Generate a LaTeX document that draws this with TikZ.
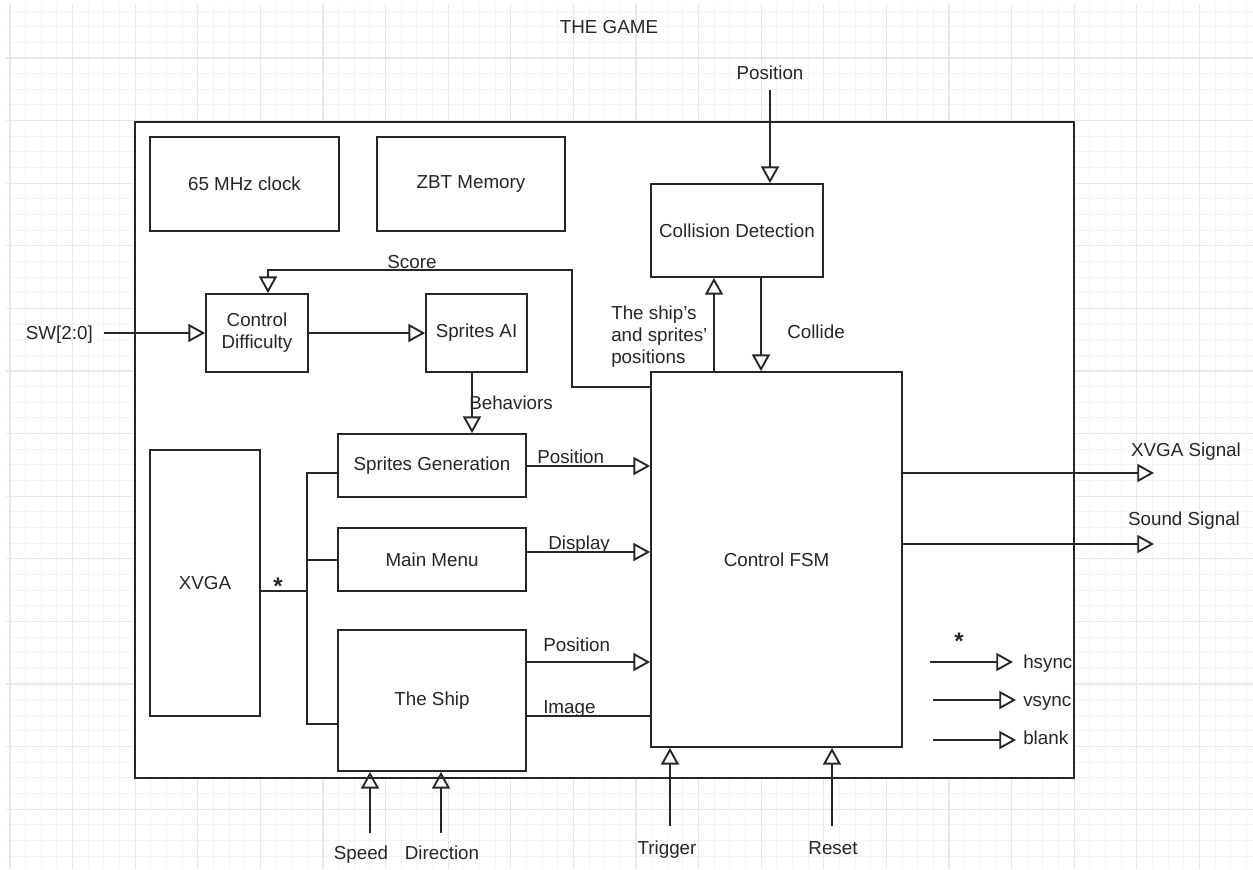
\documentclass[tikz,border=0pt]{standalone}
\usepackage{fontspec}
\setmainfont{Liberation Sans}
\usetikzlibrary{arrows.meta}
\definecolor{ink}{HTML}{262626}
\definecolor{gmin}{HTML}{F4F4F4}
\definecolor{gmaj}{HTML}{E8E8E8}
\begin{document}
\begin{tikzpicture}[x=0.75pt,y=-0.75pt,
  every node/.style={text=ink,font=\fontsize{14.1pt}{16.5pt}\selectfont},
  box/.style={draw=ink,line width=1.4pt,fill=white,inner sep=0pt,align=center},
  lbl/.style={inner sep=0pt,text height=10.1pt,text depth=0pt},
  wire/.style={draw=ink,line width=1.4pt},
  arr/.style={wire,-{Triangle[open,length=12.5pt,width=13.5pt]}},
  star/.style={inner sep=0pt,font=\fontsize{18pt}{18pt}\selectfont\bfseries,anchor=base},
  gminor/.style={draw=gmin,line width=0.75pt},
  gmajor/.style={draw=gmaj,line width=0.8pt}]
\useasboundingbox (0,0) rectangle (1253,869);
% grid
\begin{scope}
\clip (6,4) rectangle (1253,869);
\foreach \i in {0,...,79} \draw[gminor] ({10+15.65*\i},4) -- ({10+15.65*\i},869);
\foreach \j in {-3,...,51} \draw[gminor] (6,{58+15.65*\j}) -- (1253,{58+15.65*\j});
\foreach \i in {0,...,19} \draw[gmajor] ({10+62.6*\i},4) -- ({10+62.6*\i},869);
\foreach \j in {-1,...,13} \draw[gmajor] (6,{58+62.6*\j}) -- (1253,{58+62.6*\j});
\end{scope}
% outer box
\node[box,minimum width=704.25pt,minimum height=492pt] (outer) at (604.5,450) {};
% blocks
\node[box,minimum width=141.75pt,minimum height=70.5pt] (clock) at (244.5,184) {65 MHz clock};
\node[box,minimum width=141pt,minimum height=70.5pt] (zbt) at (471,184) {ZBT Memory};
\node[box,minimum width=129pt,minimum height=69.75pt] (coll) at (737,230.5) {Collision Detection};
\node[box,minimum width=76.5pt,minimum height=58.5pt] (cdiff) at (257,333) {Control\\Difficulty};
\node[box,minimum width=75.75pt,minimum height=58.5pt] (ai) at (476.5,333) {Sprites AI};
\node[box,minimum width=82.5pt,minimum height=199.5pt] (xvga) at (205,583) {XVGA};
\node[box,minimum width=141pt,minimum height=47.25pt] (sgen) at (432,465.5) {Sprites Generation};
\node[box,minimum width=141pt,minimum height=47.25pt] (menu) at (432,559.5) {Main Menu};
\node[box,minimum width=141pt,minimum height=105.75pt] (ship) at (432,700.5) {The Ship};
\node[box,minimum width=188.25pt,minimum height=281.25pt] (fsm) at (776.5,559.5) {Control FSM};
% labels
\node[lbl] (title) at (609,27) {THE GAME};
\node[lbl] (lpos) at (770,73) {Position};
\node[lbl] (lscore) at (412,262) {Score};
\node[lbl,anchor=east] (lsw) at (93,333) {SW[2:0]};
\node[inner sep=0pt,align=left,anchor=west] (lships) at (611,337) {The ship's\\and sprites'\\positions};
\node[lbl,anchor=west] (lcollide) at (787,332) {Collide};
\node[lbl,anchor=west] (lbeh) at (469,403) {Behaviors};
\node[lbl,anchor=west] (lpos1) at (537,457) {Position};
\node[lbl,anchor=west] (ldisp) at (548,543) {Display};
\node[lbl,anchor=west] (lpos2) at (543,645) {Position};
\node[lbl,anchor=west] (limg) at (543,707) {Image};
\node[lbl] (lxs) at (1186,450) {XVGA Signal};
\node[lbl] (lss) at (1184,519) {Sound Signal};
\node[lbl,anchor=west] (lh) at (1023,662) {hsync};
\node[lbl,anchor=west] (lv) at (1023,700) {vsync};
\node[lbl,anchor=west] (lb) at (1023,738) {blank};
\node[lbl] (lsp) at (361,853) {Speed};
\node[lbl] (ldir) at (442,853) {Direction};
\node[lbl] (ltrig) at (667,848) {Trigger};
\node[lbl] (lres) at (833,848) {Reset};
\node[star] (st1) at (278,594) {*};
\node[star] (st2) at (959,649) {*};
% helper coordinates
\coordinate (pin) at (770,90);
\coordinate (xa) at (714,0);
\coordinate (xb) at (761,0);
\coordinate (ys) at (0,387);
\coordinate (s1) at (572,270);
\coordinate (s2) at (268,270);
\coordinate (sw) at (104,333);
\coordinate (xc) at (472,0);
\coordinate (yg) at (0,466);
\coordinate (ym) at (0,560);
\coordinate (yd) at (0,552);
\coordinate (ye) at (0,662);
\coordinate (yf) at (0,716);
\coordinate (b1) at (307,473);
\coordinate (b3) at (307,591);
\coordinate (b4) at (307,724);
\coordinate (xs) at (1154,473);
\coordinate (ss) at (1154,544);
\coordinate (h0) at (930,662);
\coordinate (h1) at (1013,662);
\coordinate (v0) at (933,700);
\coordinate (v1) at (1016,700);
\coordinate (k0) at (933,740);
\coordinate (k1) at (1016,740);
\coordinate (sp) at (370,833);
\coordinate (dr) at (441,833);
\coordinate (tg) at (670,826);
\coordinate (rs) at (832,826);
% connectors
\draw[arr] (pin) -- (coll.north -| pin);
\draw[arr] (fsm.north -| xa) -- (coll.south -| xa);
\draw[arr] (coll.south -| xb) -- (fsm.north -| xb);
\draw[arr] (fsm.west |- ys) -| (s1) -- (s2) -- (cdiff.north -| s2);
\draw[arr] (sw) -- (cdiff.west);
\draw[arr] (cdiff.east) -- (ai.west);
\draw[arr] (ai.south -| xc) -- (sgen.north -| xc);
\draw[arr] (sgen.east |- yg) -- (fsm.west |- yg);
\draw[arr] (menu.east |- yd) -- (fsm.west |- yd);
\draw[arr] (ship.east |- ye) -- (fsm.west |- ye);
\draw[wire] (ship.east |- yf) -- (fsm.west |- yf);
\draw[wire] (sgen.west |- b1) -- (b1) -- (b4) -- (ship.west |- b4);
\draw[wire] (menu.west |- ym) -- (b1 |- ym);
\draw[wire] (xvga.east |- b3) -- (b3);
\draw[arr] (fsm.east |- xs) -- (xs);
\draw[arr] (fsm.east |- ss) -- (ss);
\draw[arr] (h0) -- (h1);
\draw[arr] (v0) -- (v1);
\draw[arr] (k0) -- (k1);
\draw[arr] (sp) -- (ship.south -| sp);
\draw[arr] (dr) -- (ship.south -| dr);
\draw[arr] (tg) -- (fsm.south -| tg);
\draw[arr] (rs) -- (fsm.south -| rs);
\end{tikzpicture}
\end{document}
